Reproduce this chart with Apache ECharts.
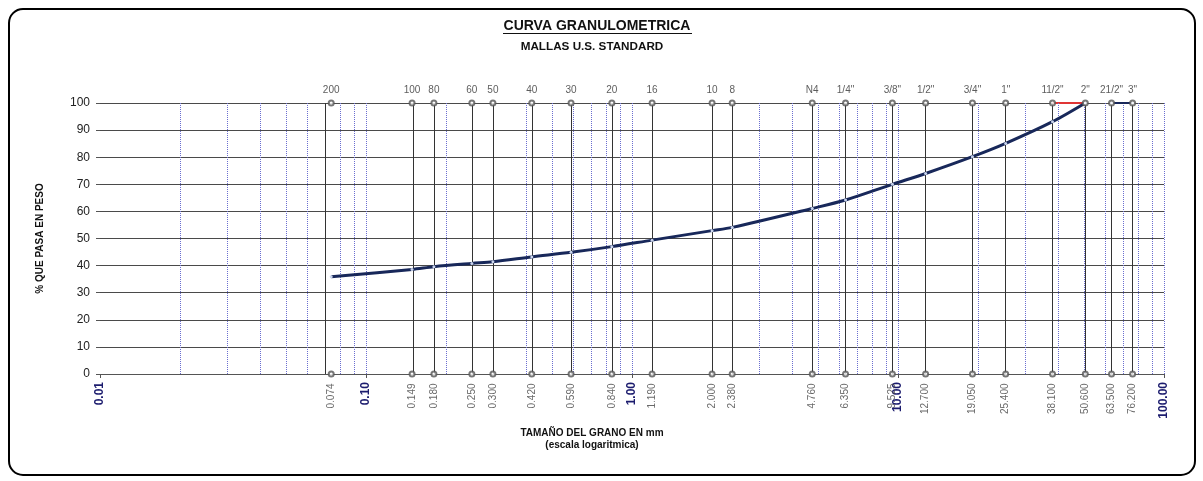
<!DOCTYPE html>
<html>
<head>
<meta charset="utf-8">
<script src="https://cdn.jsdelivr.net/npm/echarts@6/dist/echarts.min.js"></script>
<style>
  html, body { margin: 0; padding: 0; background: #fff; }
  #chart { width: 1203px; height: 481px; }
</style>
</head>
<body>
<div id="chart"></div>
<script>
// mallas (tamices) U.S. standard
var sieveNames = ['200', '100', '80', '60', '50', '40', '30', '20', '16', '10', '8', 'N4',
	'1/4"', '3/8"', '1/2"', '3/4"', '1"', '11/2"', '2"', '21/2"', '3"'];
var sieveSizes = [0.074, 0.149, 0.180, 0.250, 0.300, 0.420, 0.590, 0.840, 1.190, 2.000, 2.380, 4.760,
	6.350, 9.525, 12.700, 19.050, 25.400, 38.100, 50.600, 63.500, 76.200];
// % que pasa
var passing = [35.9, 38.6, 39.6, 40.8, 41.4, 43.2, 44.9, 47.0, 49.4, 52.9, 54.1, 61.1,
	64.2, 70.0, 74.0, 80.2, 85.1, 93.1, 100, 100, 100];
// tramo rojo superior
var redSizes = [38.1, 50.6];
var redValues = [100, 100];
// grilla logaritmica secundaria
var minorGrid = [0.02, 0.03, 0.04, 0.05, 0.06, 0.07, 0.08, 0.09, 0.1,
	0.2, 0.3, 0.4, 0.5, 0.6, 0.7, 0.8, 0.9, 1,
	2, 3, 4, 5, 6, 7, 8, 9, 10,
	20, 30, 40, 50, 60, 70, 80, 90, 100];

var font = 'Liberation Sans, Arial, sans-serif';

// curva: hasta 2", luego el tramo 21/2" - 3"
var curveMain = [], curveTail = [];
for (var i = 0; i < sieveSizes.length; i++) {
	if (i <= 18) curveMain.push([sieveSizes[i], passing[i]]);
	else curveTail.push([sieveSizes[i], passing[i]]);
}
var redData = [];
for (var r = 0; r < redSizes.length; r++) redData.push([redSizes[r], redValues[r]]);

var topPts = [], botPts = [], sieveLines = [], minorLines = [];
for (var k = 0; k < sieveSizes.length; k++) {
	topPts.push({ value: [sieveSizes[k], 100], name: sieveNames[k] });
	botPts.push({ value: [sieveSizes[k], 0], name: sieveSizes[k].toFixed(3) });
	sieveLines.push({ xAxis: sieveSizes[k] });
}
for (var m = 0; m < minorGrid.length; m++) minorLines.push({ xAxis: minorGrid[m] });

var myChart = echarts.init(document.getElementById('chart'));
var option = {
	animation: false,
	backgroundColor: '#fff',
	title: [{
		text: 'CURVA GRANULOMETRICA',
		left: 597, top: 19, textAlign: 'center', padding: 0,
		textStyle: { fontFamily: font, fontSize: 14, fontWeight: 'bold', color: '#111' }
	}, {
		text: 'MALLAS U.S. STANDARD',
		left: 592, top: 41, textAlign: 'center', padding: 0,
		textStyle: { fontFamily: font, fontSize: 11.7, fontWeight: 'bold', color: '#111' }
	}],
	graphic: [{
		type: 'rect', silent: true,
		shape: { x: 9, y: 9, width: 1186, height: 466, r: 14 },
		style: { fill: 'none', stroke: '#000', lineWidth: 2 }
	}, {
		type: 'line', silent: true,
		shape: { x1: 503, y1: 33.5, x2: 692, y2: 33.5 },
		style: { stroke: '#111', lineWidth: 1.2 }
	}, {
		type: 'text', silent: true,
		x: 592, y: 428,
		style: {
			text: 'TAMAÑO DEL GRANO EN mm', x: 0, y: 0,
			textAlign: 'center', fontFamily: font, fontSize: 10, fontWeight: 'bold', fill: '#111'
		}
	}, {
		type: 'text', silent: true,
		x: 592, y: 440,
		style: {
			text: '(escala logaritmica)', x: 0, y: 0,
			textAlign: 'center', fontFamily: font, fontSize: 10, fontWeight: 'bold', fill: '#111'
		}
	}],
	grid: { left: 100, right: 39, top: 103, bottom: 107 },
	xAxis: {
		type: 'log', logBase: 10, min: 0.01, max: 100,
		axisLine: { show: true, lineStyle: { color: '#555' } },
		axisTick: { show: true, length: 4, lineStyle: { color: '#555' } },
		splitLine: { show: false },
		axisLabel: {
			rotate: 90, margin: 8,
			fontFamily: font, fontSize: 12, fontWeight: 'bold', color: '#1c1c6e',
			formatter: function (v) { return Number(v).toFixed(2); }
		}
	},
	yAxis: {
		type: 'value', min: 0, max: 100, interval: 10,
		name: '% QUE PASA EN PESO', nameLocation: 'middle', nameRotate: 90, nameGap: 55,
		nameTextStyle: { fontFamily: font, fontSize: 10, fontWeight: 'bold', color: '#111' },
		axisLine: { show: false },
		axisTick: { show: true, length: 4, lineStyle: { color: '#555' } },
		axisLabel: { fontFamily: font, fontSize: 12, color: '#222', margin: 10 },
		splitLine: { show: true, lineStyle: { color: '#4a4a4a', width: 1 } }
	},
	series: [{
		// grilla secundaria azul
		type: 'line', data: [], silent: true, z: 1,
		markLine: {
			silent: true, symbol: 'none', animation: false,
			label: { show: false },
			lineStyle: { color: '#6a6ed0', type: [1, 1], width: 1 },
			data: minorLines
		}
	}, {
		// lineas verticales de cada malla
		type: 'line', data: [], silent: true, z: 2,
		markLine: {
			silent: true, symbol: 'none', animation: false,
			label: { show: false },
			lineStyle: { color: '#333', type: 'solid', width: 1 },
			data: sieveLines
		}
	}, {
		type: 'line', data: redData, z: 4,
		symbol: 'none',
		lineStyle: { color: '#e03535', width: 2 }
	}, {
		type: 'line', data: curveMain, z: 5, smooth: 0.3,
		symbol: 'circle', symbolSize: 3,
		itemStyle: { color: '#c9d4ec' },
		lineStyle: { color: '#18285a', width: 3 }
	}, {
		type: 'line', data: curveTail, z: 5,
		symbol: 'circle', symbolSize: 3,
		itemStyle: { color: '#c9d4ec' },
		lineStyle: { color: '#18285a', width: 2 }
	}, {
		type: 'scatter', data: topPts, z: 6,
		symbol: 'emptyCircle', symbolSize: 5,
		itemStyle: { color: '#555', borderWidth: 1 },
		label: {
			show: true, position: 'top', distance: 4,
			formatter: '{b}', fontFamily: font, fontSize: 10, color: '#333'
		}
	}, {
		type: 'scatter', data: botPts, z: 6,
		symbol: 'emptyCircle', symbolSize: 5,
		itemStyle: { color: '#555', borderWidth: 1 },
		label: {
			show: true, position: 'bottom', distance: 6, rotate: 90,
			align: 'right', verticalAlign: 'middle',
			formatter: '{b}', fontFamily: font, fontSize: 10, color: '#444'
		}
	}]
};
myChart.setOption(option);
</script>
</body>
</html>
